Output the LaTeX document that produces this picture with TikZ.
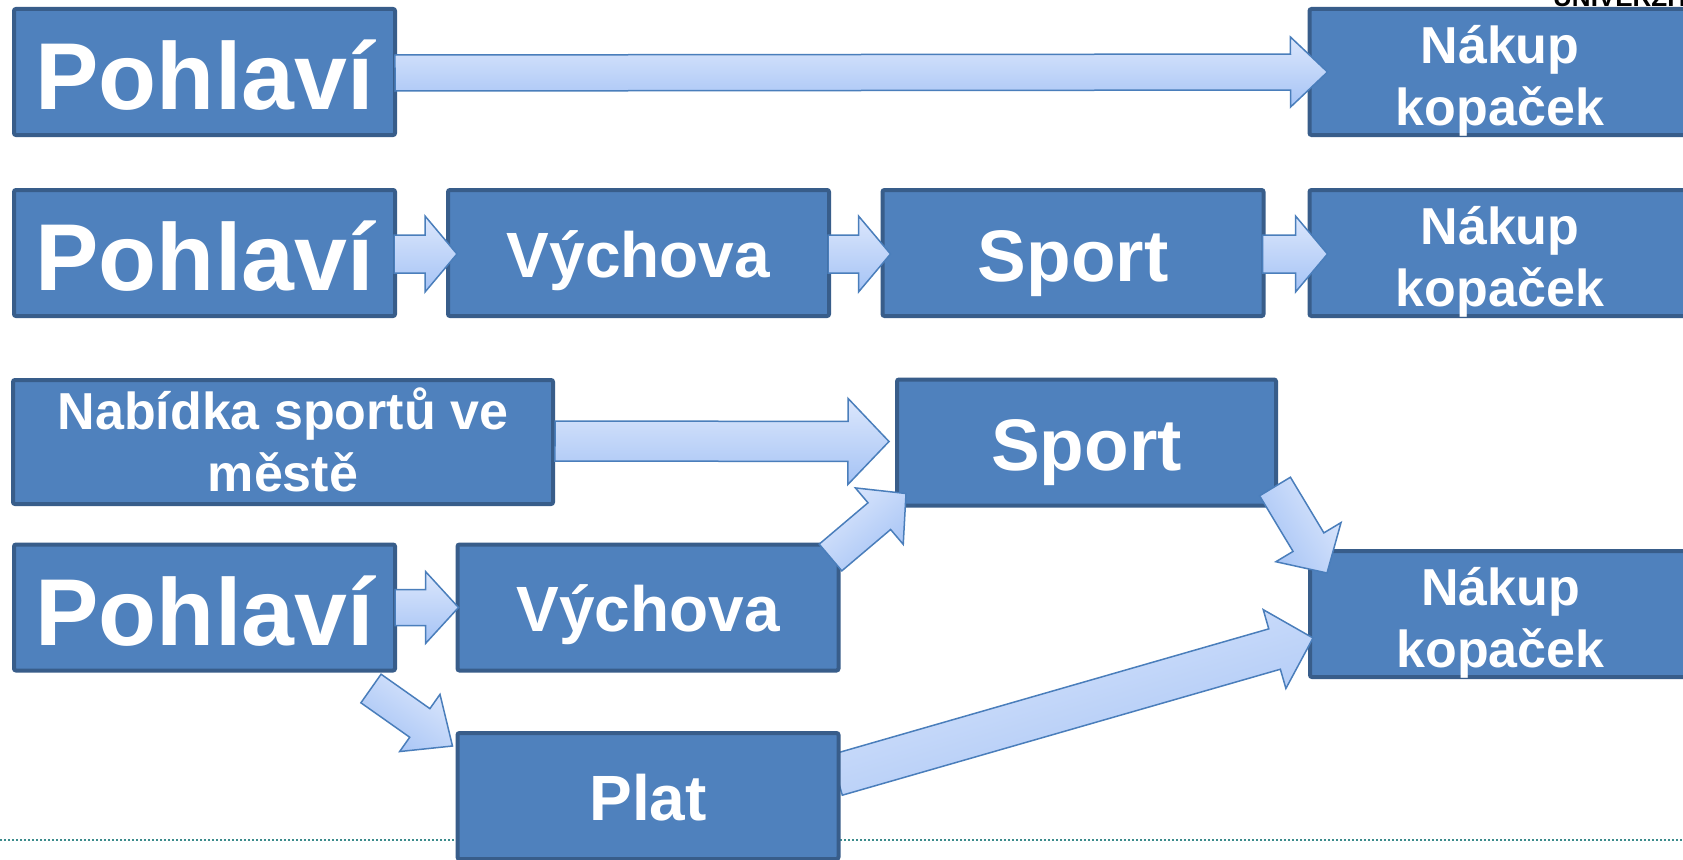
\documentclass[tikz,border=0pt]{standalone}
\usepackage{fontspec}
\setmainfont{Liberation Sans}
\usetikzlibrary{calc}
\pgfdeclarelayer{front}
\pgfsetlayers{main,front}
\definecolor{boxfill}{RGB}{79,129,189}
\definecolor{boxline}{RGB}{56,93,138}
\definecolor{arrline}{RGB}{74,126,187}
\definecolor{arrtop}{RGB}{220,231,252}
\definecolor{arrbot}{RGB}{165,195,245}
\definecolor{dotteal}{RGB}{60,140,140}
\newcommand\blockarrow[7]{%
  \coordinate (#1h) at ($(#3)!#6!(#2)$);
  \path[barrow, shading angle=#7] ($(#2)!#4!90:(#3)$) -- ($(#1h)!#4!90:(#3)$) -- ($(#1h)!#5!90:(#3)$) -- (#3) -- ($(#1h)!#5!-90:(#3)$) -- ($(#1h)!#4!-90:(#3)$) -- ($(#2)!#4!-90:(#3)$) -- cycle;
}
\tikzset{
  box/.style={draw=boxline, fill=boxfill, line width=4pt, rounded corners=2pt,
    minimum width=381pt, minimum height=126pt, inner sep=0pt, text=white, align=center},
  big/.style={font=\bfseries\fontsize{95}{114}\selectfont, text height=85pt, text depth=10pt},
  mid/.style={font=\bfseries\fontsize{64}{76}\selectfont, text height=58pt, text depth=10pt},
  spt/.style={font=\bfseries\fontsize{73}{88}\selectfont, text height=66pt, text depth=10pt},
  two/.style={font=\bfseries\fontsize{52}{62}\selectfont, text height=116pt, text depth=10pt},
  barrow/.style={draw=arrline, line width=1.5pt, line join=miter, top color=arrtop, bottom color=arrbot},
  dotline/.style={draw=dotteal, line width=2pt, dash pattern=on 2pt off 2pt}
}
\begin{document}
\begin{tikzpicture}[x=1pt,y=-1pt]
\useasboundingbox (0,0) rectangle (1683,859);
\fill[white] (0,0) rectangle (1683,859);
\draw[dotline] (0,840) -- (1683,840);
\node[anchor=base west, inner sep=0pt, font=\bfseries\fontsize{26}{26}\selectfont] (uni) at (1553,7) {UNIVERZITA};
% row 1
\node[box, big] (p1) at (204.5,72) {Pohlaví};
\node[box, two] (n1) at (1500,72) {Nákup\\kopaček};
% row 2
\node[box, big] (p2) at (204.5,253) {Pohlaví};
\node[box, mid] (v2) at (638.5,253) {Výchova};
\node[box, spt] (s2) at (1073,253) {Sport};
\node[box, two] (n2) at (1500,253) {Nákup\\kopaček};
% row 3
\node[box, two, minimum width=540pt, minimum height=124pt, text height=111pt, text depth=12pt] (nb) at (283,442) {Nabídka sportů ve\\městě};
\node[box, spt, minimum width=379pt] (s3) at (1086.5,442.5) {Sport};
% row 4
\node[box, big] (p4) at (204.5,607.5) {Pohlaví};
\node[box, mid] (v4) at (648,607.5) {Výchova};
\begin{pgfonlayer}{front}
\node[box, mid] (pl) at (648,796) {Plat};
\end{pgfonlayer}
\node[box, two] (n4) at (1500.5,614) {Nákup\\kopaček};
% arrow end points
\coordinate (a1s) at ($(p1.east)+(-2,1)$);
\coordinate (a1e) at ($(n1.west)+(20,0)$);
\coordinate (a2s) at ($(p2.east)+(-3,1)$);
\coordinate (a2e) at ($(v2.west)+(11,1)$);
\coordinate (a3s) at ($(v2.east)+(-3,1)$);
\coordinate (a3e) at ($(s2.west)+(10,1)$);
\coordinate (a4s) at ($(s2.east)+(-3,1)$);
\coordinate (a4e) at ($(n2.west)+(20,1)$);
\coordinate (a5s) at ($(nb.east)+(0,-1)$);
\coordinate (a5e) at ($(s3.west)+(-6,-1)$);
\coordinate (a6s) at ($(p4.east)+(-2,0)$);
\coordinate (a6e) at ($(v4.west)+(3,0)$);
\coordinate (a7s) at ($(v4.north east)+(-10,15)$);
\coordinate (a7e) at ($(s3.south west)+(11,-14)$);
\coordinate (a8s) at ($(s3.south east)+(-3,-21)$);
\coordinate (a8e) at ($(n4.north west)+(19,24)$);
\coordinate (a9s) at ($(p4.south east)+(-26,16)$);
\coordinate (a9e) at ($(pl.north west)+(-3,15)$);
\coordinate (a10s) at ($(pl.east)+(-4,-21)$);
\coordinate (a10e) at ($(n4.west)+(5,24)$);
% arrows
\blockarrow{A1}{a1s}{a1e}{18pt}{35pt}{37pt}{0}
\blockarrow{A2}{a2s}{a2e}{19pt}{38pt}{32pt}{0}
\blockarrow{A3}{a3s}{a3e}{19pt}{38pt}{32pt}{0}
\blockarrow{A4}{a4s}{a4e}{19pt}{38pt}{32pt}{0}
\blockarrow{A5}{a5s}{a5e}{20pt}{43pt}{41pt}{0}
\blockarrow{A6}{a6s}{a6e}{18pt}{36pt}{33pt}{0}
\blockarrow{A7}{a7s}{a7e}{17.5pt}{37pt}{35pt}{40.5}
\blockarrow{A8}{a8s}{a8e}{18pt}{38pt}{36pt}{-59}
\blockarrow{A9}{a9s}{a9e}{17.5pt}{35pt}{40pt}{-35}
\blockarrow{A10}{a10s}{a10e}{21pt}{41pt}{40pt}{17}
\end{tikzpicture}
\end{document}
